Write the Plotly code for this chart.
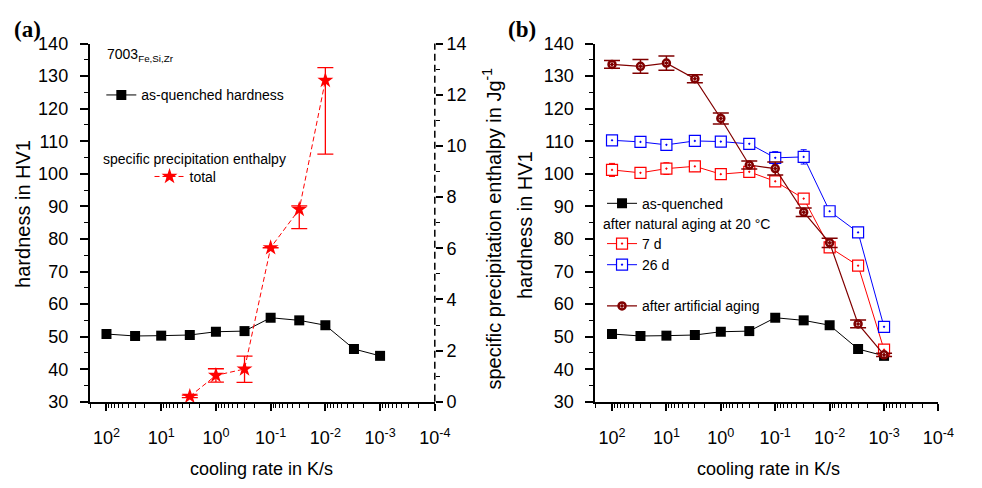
import plotly.graph_objects as go

W, H = 982, 488

# ---------------- data ----------------
cooling_rate = [100, 30, 10, 3, 1, 0.3, 0.1, 0.03, 0.01, 0.003, 0.001]
hardness_as_quenched = [50.8, 50.2, 50.3, 50.5, 51.5, 51.7, 55.8, 55.0, 53.5, 46.2, 44.1]

enthalpy_rate = [3, 1, 0.3, 0.1, 0.03, 0.01]
enthalpy_total = [0.21, 1.03, 1.28, 6.02, 7.52, 12.56]
enthalpy_err_plus = [0.05, 0.26, 0.50, 0.0, 0.14, 0.50]
enthalpy_err_minus = [0.05, 0.26, 0.52, 0.0, 0.75, 2.88]

hardness_7d = [101.2, 100.3, 101.6, 102.3, 99.9, 100.6, 97.7, 92.4, 77.4, 71.8, 46.0]
hardness_7d_err = [2.0, 1.1, 1.8, 1.5, 1.0, 1.7, 1.0, 1.0, 0.8, 1.0, 0.5]
hardness_26d = [110.3, 109.8, 108.9, 110.1, 109.9, 109.2, 104.9, 105.2, 88.5, 82.0, 53.0]
hardness_26d_err = [1.3, 1.5, 1.3, 1.5, 1.2, 1.2, 1.9, 2.2, 0.5, 0.8, 1.2]
hardness_artificial = [133.6, 133.0, 134.0, 129.2, 117.0, 102.7, 101.6, 88.2, 78.8, 53.9, 44.4]
hardness_artificial_err = [1.2, 2.1, 2.2, 1.2, 1.7, 1.2, 2.0, 1.3, 1.4, 1.2, 0.5]

x_tick_vals = [100, 10, 1, 0.1, 0.01, 0.001, 0.0001]
x_tick_text = ["10<sup>2</sup>", "10<sup>1</sup>", "10<sup>0</sup>", "10<sup>-1</sup>",
               "10<sup>-2</sup>", "10<sup>-3</sup>", "10<sup>-4</sup>"]
x_minor_vals = [m * 10.0 ** e for e in range(-4, 3) for m in range(2, 10)]

# ---------------- style ----------------
FONT = "Liberation Sans, Arial, sans-serif"
RED = "#ff0000"
BLUE = "#0000ff"
DARKRED = "#800000"


def px(x):
    return x / W


def py(y):
    return 1 - y / H


LX = [px(91), px(442)]
RX = [px(605), px(954)]
YD = [py(408.5), py(35)]

fig = go.Figure()

# left panel
fig.add_trace(go.Scatter(
    x=cooling_rate, y=hardness_as_quenched, xaxis="x", yaxis="y",
    mode="lines+markers", name="as-quenched hardness", legend="legend",
    line=dict(color="black", width=1),
    marker=dict(symbol="square", size=10, color="black"), cliponaxis=False))
fig.add_trace(go.Scatter(
    x=enthalpy_rate, y=enthalpy_total, xaxis="x", yaxis="y2",
    mode="lines+markers", name="total", legend="legend2",
    line=dict(color=RED, width=1, dash="5px,3px"),
    marker=dict(symbol="star", size=12, color=RED),
    error_y=dict(type="data", symmetric=False, array=enthalpy_err_plus,
                 arrayminus=enthalpy_err_minus, color=RED, thickness=1.3, width=8),
    cliponaxis=False))

# right panel
fig.add_trace(go.Scatter(
    x=cooling_rate, y=hardness_as_quenched, xaxis="x3", yaxis="y3",
    mode="lines+markers", name="as-quenched", legend="legend3",
    line=dict(color="black", width=1),
    marker=dict(symbol="square", size=10, color="black"), cliponaxis=False))
fig.add_trace(go.Scatter(
    x=cooling_rate, y=hardness_7d, xaxis="x3", yaxis="y3",
    mode="lines+markers", name="7 d", legend="legend4",
    line=dict(color=RED, width=1),
    marker=dict(symbol="square-dot", size=11, color="white", line=dict(width=1.2, color=RED)),
    error_y=dict(type="data", array=hardness_7d_err, color=RED, thickness=1, width=3),
    cliponaxis=False))
fig.add_trace(go.Scatter(
    x=cooling_rate, y=hardness_26d, xaxis="x3", yaxis="y3",
    mode="lines+markers", name="26 d", legend="legend5",
    line=dict(color=BLUE, width=1),
    marker=dict(symbol="square-dot", size=11, color="white", line=dict(width=1.2, color=BLUE)),
    error_y=dict(type="data", array=hardness_26d_err, color=BLUE, thickness=1, width=3),
    cliponaxis=False))
fig.add_trace(go.Scatter(
    x=cooling_rate, y=hardness_artificial, xaxis="x3", yaxis="y3",
    mode="lines+markers", name="after artificial aging", legend="legend6",
    line=dict(color=DARKRED, width=1.2),
    marker=dict(symbol="circle-dot", size=7, color="white", line=dict(width=2.5, color=DARKRED)),
    error_y=dict(type="data", array=hardness_artificial_err, color=DARKRED, thickness=1.5, width=8),
    cliponaxis=False))

tickfont = dict(family=FONT, size=18, color="black")


def xaxis_def(domain, anchor):
    return dict(domain=domain, anchor=anchor, type="log", range=[2.31, -4],
                tickmode="array", tickvals=x_tick_vals, ticktext=x_tick_text,
                ticks="outside", ticklen=7, tickwidth=1.5, tickcolor="black",
                ticklabelstandoff=12,
                minor=dict(tickmode="array", tickvals=x_minor_vals, ticks="outside",
                           ticklen=4, tickwidth=1, tickcolor="black", showgrid=False),
                showline=True, linecolor="black", linewidth=1.5, showgrid=False,
                zeroline=False, tickfont=tickfont, fixedrange=True)


def yaxis_def(domain, anchor):
    return dict(domain=domain, anchor=anchor, range=[30, 140], dtick=10, tick0=0,
                ticks="outside", ticklen=8, tickwidth=1.5, tickcolor="black",
                ticklabelstandoff=8,
                minor=dict(dtick=5, ticks="outside", ticklen=4, tickwidth=1,
                           tickcolor="black", showgrid=False),
                showline=True, linecolor="black", linewidth=1.5, showgrid=False,
                zeroline=False, tickfont=tickfont, fixedrange=True)


def legend_def(xm, ym):
    return dict(x=px(xm - 20), y=py(ym), xanchor="left", yanchor="middle",
                bgcolor="rgba(0,0,0,0)", borderwidth=0,
                font=dict(family=FONT, size=14, color="black"))


fig.update_layout(
    width=W, height=H, margin=dict(l=0, r=0, t=0, b=0),
    paper_bgcolor="white", plot_bgcolor="white",
    font=dict(family=FONT, color="black"),
    xaxis=xaxis_def(LX, "y"),
    yaxis=yaxis_def(YD, "x"),
    yaxis2=dict(overlaying="y", anchor="x", side="right", range=[0, 14], dtick=2,
                ticks="outside", ticklen=7, tickwidth=1.5, tickcolor="black",
                minor=dict(dtick=1, ticks="outside", ticklen=4, tickwidth=1,
                           tickcolor="black", showgrid=False),
                showline=False, showgrid=False, zeroline=False, tickfont=tickfont,
                fixedrange=True),
    xaxis3=xaxis_def(RX, "y3"),
    yaxis3=yaxis_def(YD, "x3"),
    legend=legend_def(123, 89),
    legend2=legend_def(172, 174),
    legend3=legend_def(632, 202),
    legend4=legend_def(632, 244),
    legend5=legend_def(632, 266),
    legend6=legend_def(632, 309),
    showlegend=True,
)

# dashed right (enthalpy) axis line
fig.add_shape(type="line", xref="paper", yref="paper", x0=LX[1], x1=LX[1], y0=YD[0], y1=YD[1],
              line=dict(color="black", width=1.5, dash="7px,4px"))


def ann(text, x, y, size, angle=0, xanchor="center", yanchor="middle", family=FONT):
    fig.add_annotation(text=text, x=px(x), y=py(y), xref="paper", yref="paper",
                       showarrow=False, textangle=angle, xanchor=xanchor, yanchor=yanchor,
                       font=dict(family=family, size=size, color="black"))


ann("<b>(a)</b>", 28, 20, 23, family="Liberation Serif, Times New Roman, serif")
ann("<b>(b)</b>", 531, 20, 23, family="Liberation Serif, Times New Roman, serif")
ann("7003<sub>Fe,Si,Zr</sub>", 107, 47, 14, xanchor="left")
ann("specific precipitation enthalpy", 103, 155, 14, xanchor="left")
ann("after natural aging at 20 °C", 611, 223, 14, xanchor="left")
ann("hardness in HV1", 24, 213, 20, angle=-90)
ann("hardness in HV1", 534, 224, 20, angle=-90)
ann("specific precipitation enthalpy in Jg<sup>-1</sup>", 500, 228, 20, angle=-90)
ann("cooling rate in K/s", 266, 479, 18)
ann("cooling rate in K/s", 781, 479, 18)

fig.write_html("out.html")
